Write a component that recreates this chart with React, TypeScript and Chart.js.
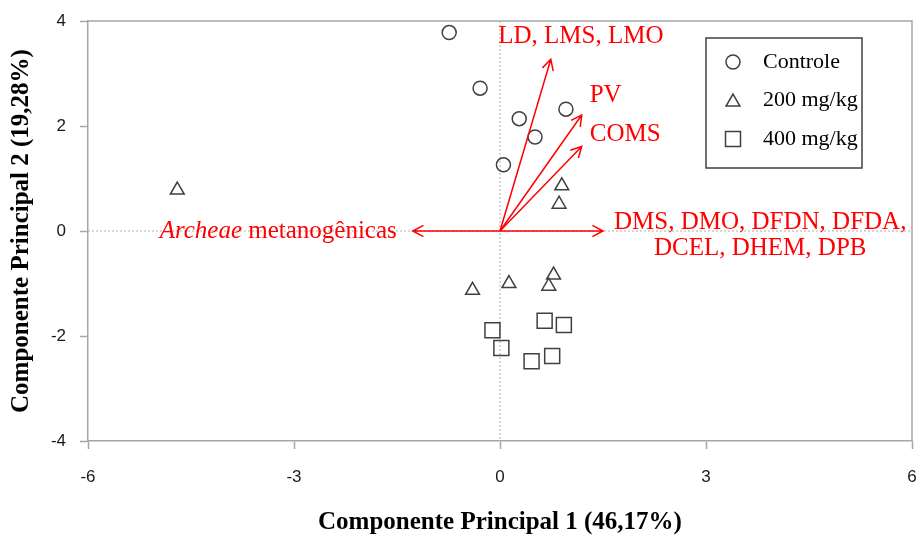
import React, { useEffect, useRef } from 'react';
import { Chart, registerables } from 'chart.js';

Chart.register(...registerables);

const seriesLabels = ['Controle', '200 mg/kg', '400 mg/kg'];
const controleX = [-0.74, -0.29, 0.96, 0.28, 0.51, 0.05];
const controleY = [3.78, 2.72, 2.32, 2.14, 1.79, 1.26];
const dose200X = [-4.7, 0.9, 0.86, -0.4, 0.13, 0.78, 0.71];
const dose200Y = [0.78, 0.86, 0.51, -1.13, -1.0, -0.84, -1.05];
const dose400X = [-0.11, 0.02, 0.65, 0.93, 0.46, 0.76];
const dose400Y = [-1.89, -2.23, -1.71, -1.79, -2.48, -2.38];

const vectorLabels = [
  ['LD, LMS, LMO'],
  ['PV'],
  ['COMS'],
  ['DMS, DMO, DFDN, DFDA,', 'DCEL, DHEM, DPB'],
  ['Archeae', ' metanogênicas'],
];
const vectorX = [0.74, 1.19, 1.19, 1.5, -1.27];
const vectorY = [3.27, 2.21, 1.61, 0, 0];

const xTitle = 'Componente Principal 1 (46,17%)';
const yTitle = 'Componente Principal 2 (19,28%)';

const MARK = '#404040';
const AXIS = '#a6a6a6';
const RED = '#ff0000';
const SERIF = '"Liberation Serif", "Times New Roman", serif';
const SANS = '"Liberation Sans", Arial, sans-serif';

const toPoints = (xs: number[], ys: number[]) => xs.map((x, i) => ({ x, y: ys[i] }));

const RIGHT_GAP = 8;

const fitPlugin = {
  id: 'fitArea',
  afterLayout(chart: any) {
    const xs = chart.scales.x;
    const target = chart.width - RIGHT_GAP;
    if (Math.abs(xs.right - target) > 0.01) {
      xs.right = target;
      xs.width = target - xs.left;
      xs.configure();
      chart.chartArea.right = target;
      chart.chartArea.width = target - chart.chartArea.left;
    }
  },
};

const framePlugin = {
  id: 'frame',
  beforeDatasetsDraw(chart: any) {
    const { ctx, chartArea: a, scales } = chart;
    const x0 = scales.x.getPixelForValue(0);
    const y0 = scales.y.getPixelForValue(0);
    ctx.save();
    ctx.strokeStyle = '#b0b0b0';
    ctx.lineWidth = 1;
    ctx.setLineDash([2, 2]);
    ctx.beginPath();
    ctx.moveTo(a.left, y0);
    ctx.lineTo(a.right, y0);
    ctx.moveTo(x0, a.top);
    ctx.lineTo(x0, a.bottom);
    ctx.stroke();
    ctx.setLineDash([]);
    ctx.strokeStyle = AXIS;
    ctx.lineWidth = 1.5;
    ctx.beginPath();
    ctx.moveTo(a.left, a.top);
    ctx.lineTo(a.right, a.top);
    ctx.lineTo(a.right, a.bottom);
    ctx.stroke();
    ctx.restore();
  },
};

const vectorPlugin = {
  id: 'vectors',
  afterDatasetsDraw(chart: any) {
    const { ctx, scales } = chart;
    const ox = scales.x.getPixelForValue(0);
    const oy = scales.y.getPixelForValue(0);
    ctx.save();
    ctx.strokeStyle = RED;
    ctx.fillStyle = RED;
    ctx.lineWidth = 1.5;
    vectorX.forEach((vx, i) => {
      const ex = scales.x.getPixelForValue(vx);
      const ey = scales.y.getPixelForValue(vectorY[i]);
      const ang = Math.atan2(ey - oy, ex - ox);
      const L = 12;
      const h = (28 * Math.PI) / 180;
      ctx.beginPath();
      ctx.moveTo(ox, oy);
      ctx.lineTo(ex, ey);
      ctx.moveTo(ex - L * Math.cos(ang - h), ey - L * Math.sin(ang - h));
      ctx.lineTo(ex, ey);
      ctx.lineTo(ex - L * Math.cos(ang + h), ey - L * Math.sin(ang + h));
      ctx.stroke();

      const lines = vectorLabels[i];
      ctx.textBaseline = 'middle';
      ctx.font = `25px ${SERIF}`;
      if (i === 0) {
        ctx.textAlign = 'center';
        ctx.fillText(lines[0], ex + 30, ey - 23);
      } else if (i === 1) {
        ctx.textAlign = 'left';
        ctx.fillText(lines[0], ex + 8, ey - 20);
      } else if (i === 2) {
        ctx.textAlign = 'left';
        ctx.fillText(lines[0], ex + 8, ey - 12);
      } else if (i === 3) {
        ctx.textAlign = 'left';
        const w = ctx.measureText(lines[0]).width;
        const lx = ex + 11;
        ctx.fillText(lines[0], lx, ey - 9);
        ctx.textAlign = 'center';
        ctx.fillText(lines[1], lx + w / 2, ey + 17);
      } else {
        ctx.textAlign = 'right';
        const rx = ex - 16;
        ctx.fillText(lines[1], rx, ey);
        const w = ctx.measureText(lines[1]).width;
        ctx.font = `italic 25px ${SERIF}`;
        ctx.fillText(lines[0], rx - w, ey);
      }
    });
    ctx.restore();
  },
};

const legendPlugin = {
  id: 'boxLegend',
  afterDraw(chart: any) {
    const { ctx, chartArea: a } = chart;
    const bx = a.right - 206;
    const by = a.top + 17;
    const bw = 156;
    const bh = 130;
    ctx.save();
    ctx.fillStyle = '#ffffff';
    ctx.fillRect(bx, by, bw, bh);
    ctx.strokeStyle = MARK;
    ctx.lineWidth = 1.5;
    ctx.strokeRect(bx, by, bw, bh);
    const mx = bx + 27;
    const rows = [by + 24, by + 62, by + 101];
    ctx.strokeStyle = MARK;
    ctx.lineWidth = 1.5;
    ctx.beginPath();
    ctx.arc(mx, rows[0], 7, 0, Math.PI * 2);
    ctx.stroke();
    const r = 8;
    const ty = rows[1] + 2;
    ctx.beginPath();
    for (let k = 0; k < 3; k++) {
      const t = (k * 2 * Math.PI) / 3;
      const px = mx + Math.sin(t) * r;
      const py = ty - Math.cos(t) * r;
      if (k === 0) ctx.moveTo(px, py);
      else ctx.lineTo(px, py);
    }
    ctx.closePath();
    ctx.stroke();
    ctx.strokeRect(mx - 7.5, rows[2] - 7.5, 15, 15);
    ctx.fillStyle = '#000000';
    ctx.font = `22px ${SERIF}`;
    ctx.textAlign = 'left';
    ctx.textBaseline = 'middle';
    seriesLabels.forEach((t, k) => ctx.fillText(t, bx + 57, rows[k]));
    ctx.restore();
  },
};

export default function App() {
  const ref = useRef<HTMLCanvasElement | null>(null);
  useEffect(() => {
    if (!ref.current) return;
    const common = {
      borderColor: MARK,
      backgroundColor: 'rgba(0,0,0,0)',
      pointBorderColor: MARK,
      pointBackgroundColor: 'rgba(0,0,0,0)',
      pointBorderWidth: 1.5,
      showLine: false,
    };
    const chart = new Chart(ref.current, {
      type: 'scatter',
      data: {
        datasets: [
          { ...common, label: seriesLabels[0], data: toPoints(controleX, controleY), pointStyle: 'circle', pointRadius: 7 },
          { ...common, label: seriesLabels[1], data: toPoints(dose200X, dose200Y), pointStyle: 'triangle', pointRadius: 8 },
          { ...common, label: seriesLabels[2], data: toPoints(dose400X, dose400Y), pointStyle: 'rect', pointRadius: 10.6 },
        ],
      },
      options: {
        responsive: false,
        animation: false,
        layout: { padding: { top: 21, right: 8, left: 0, bottom: 0 } },
        plugins: { legend: { display: false }, tooltip: { enabled: false } },
        scales: {
          x: {
            type: 'linear',
            min: -6,
            max: 6,
            ticks: { stepSize: 3, color: '#1a1a1a', font: { family: SANS, size: 17 }, padding: 18 },
            grid: { drawOnChartArea: false, drawTicks: true, tickLength: 8, tickColor: AXIS, tickWidth: 1.5 },
            border: { color: AXIS, width: 1.5 },
            title: {
              display: true,
              text: xTitle,
              color: '#000',
              font: { family: SERIF, size: 25, weight: 'bold', lineHeight: 1 },
              padding: { top: 0, bottom: 1 },
            },
            afterFit: (s: any) => {
              s.height = 95;
              s.paddingLeft = 0;
              s.paddingRight = 8;
            },
          },
          y: {
            type: 'linear',
            min: -4,
            max: 4,
            ticks: { stepSize: 2, color: '#1a1a1a', font: { family: SANS, size: 17 }, padding: 14 },
            grid: { drawOnChartArea: false, drawTicks: true, tickLength: 8, tickColor: AXIS, tickWidth: 1.5 },
            border: { color: AXIS, width: 1.5 },
            title: {
              display: true,
              text: yTitle,
              color: '#000',
              font: { family: SERIF, size: 25, weight: 'bold', lineHeight: 1 },
              padding: { top: 9, bottom: 0 },
            },
            afterFit: (s: any) => {
              s.width = 88;
              s.paddingTop = 0;
              s.paddingBottom = 0;
            },
          },
        },
      },
      plugins: [fitPlugin, framePlugin, vectorPlugin, legendPlugin],
    } as any);
    return () => chart.destroy();
  }, []);
  return (
    <div style={{ position: 'fixed', left: 0, top: 0, width: 920, height: 536, background: '#fff' }}>
      <canvas ref={ref} width={920} height={536} style={{ display: 'block', width: 920, height: 536 }} />
    </div>
  );
}
